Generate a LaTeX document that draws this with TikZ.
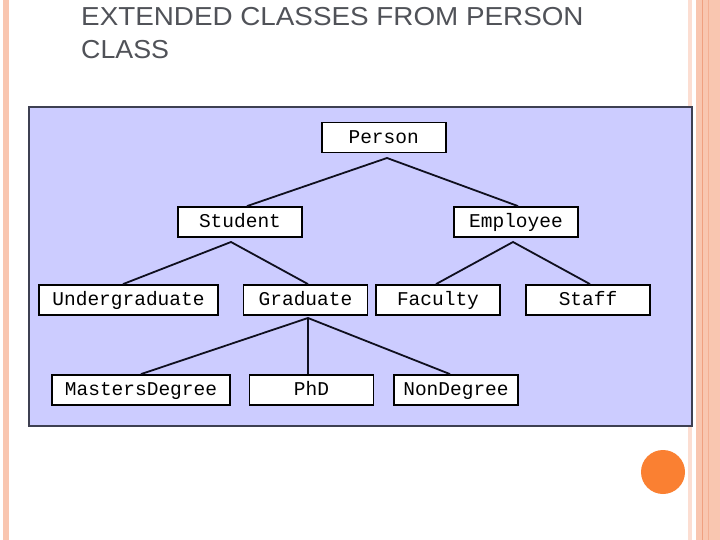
\documentclass[tikz,border=0pt]{standalone}
\usepackage{fontspec}
\setmainfont{Liberation Sans}
\newfontfamily\monofont{Liberation Mono}
\definecolor{salmon}{RGB}{249,198,176}
\definecolor{salmonlt}{RGB}{252,222,210}
\definecolor{salmondk}{RGB}{240,160,128}
\definecolor{panelfill}{RGB}{204,204,255}
\definecolor{paneldraw}{RGB}{62,64,82}
\definecolor{titlegray}{RGB}{80,82,88}
\definecolor{dotorange}{RGB}{250,128,50}
\definecolor{linkcol}{RGB}{15,15,30}
\begin{document}
\begin{tikzpicture}[x=1pt,y=-1pt,
  classbox/.style={draw=black,fill=white,line width=1.8pt,inner sep=0pt,
    minimum height=30pt,text height=13pt,text depth=1.5pt,
    font=\monofont\fontsize{19.5}{20}\selectfont},
  titletext/.style={anchor=north west,text=titlegray,inner sep=0pt,
    font=\fontsize{26}{33}\selectfont},
  link/.style={draw=linkcol,line width=1.8pt}]
\useasboundingbox[fill=white] (0,0) rectangle (720,540);
% decorations
\fill[salmon] (3,0) rectangle (9,540);
\fill[salmonlt] (688,0) rectangle (692,540);
\fill[salmon] (696,0) rectangle (720,540);
\draw[salmondk,line width=1pt] (702,0) -- (702,540);
\draw[salmondk!60!salmon,line width=0.8pt] (708,0) -- (708,540);
\fill[dotorange] (663,472) circle (22);
% title
\node[titletext] (title1) at (81,7.5) {\scalebox{1.07}[1]{EXTENDED CLASSES FROM PERSON}};
\node[titletext] (title2) at (81,40.5) {\scalebox{1.03}[1]{CLASS}};
% panel
\draw[fill=panelfill,draw=paneldraw,line width=2pt] (29,107) rectangle (691.5,425.5);
% nodes
\node[classbox,minimum width=124pt] (p) at (383.7,137.5) {Person};
\node[classbox,minimum width=124pt] (s) at (240,222) {Student};
\node[classbox,minimum width=124pt] (e) at (516,222) {Employee};
\node[classbox,minimum width=179pt] (u) at (128.5,300) {Undergraduate};
\node[classbox,minimum width=124pt] (g) at (305.5,300) {Graduate};
\node[classbox,minimum width=124pt] (f) at (438,300) {Faculty};
\node[classbox,minimum width=124pt] (st) at (588,300) {Staff};
\node[classbox,minimum width=178pt] (m) at (141,390) {MastersDegree};
\node[classbox,minimum width=124pt] (ph) at (311.5,390) {PhD};
\node[classbox,minimum width=124pt] (n) at (456,390) {NonDegree};
% apex points
\coordinate (pa) at (387,158);
\coordinate (sa) at (231,242);
\coordinate (ea) at (513,242);
\coordinate (ga) at (308,318);
% connectors
\draw[link] ([xshift=7pt]s.north) -- (pa) -- ([xshift=2pt]e.north);
\draw[link] ([xshift=-5.5pt]u.north) -- (sa) -- ([xshift=2.5pt]g.north);
\draw[link] ([xshift=-2pt]f.north) -- (ea) -- ([xshift=2pt]st.north);
\draw[link] (m.north) -- (ga) -- ([xshift=-6pt]n.north);
\draw[link] (ga) -- (ph.north -| ga);
\end{tikzpicture}
\end{document}
